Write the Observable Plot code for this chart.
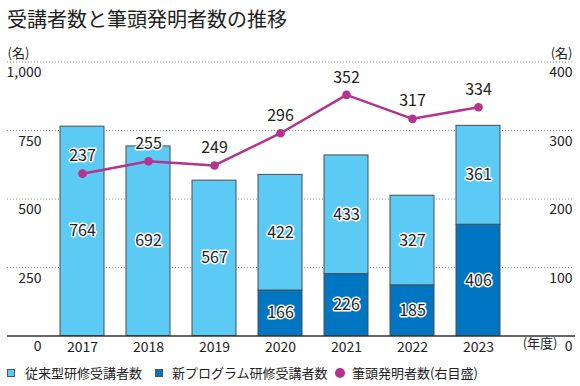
<!DOCTYPE html>
<html><head><meta charset="utf-8">
<script src="https://cdn.jsdelivr.net/npm/d3@7"></script>
<script src="https://cdn.jsdelivr.net/npm/@observablehq/plot@0.6"></script>
<style>
body{margin:0;background:#fff;font-family:"Noto Sans CJK JP",sans-serif;color:#222;}
#wrap{width:580px;height:386px;position:relative;overflow:hidden;background:#fff}
#title{height:36px;box-sizing:border-box;padding:9px 0 0 7px;font-size:20px;line-height:20px;color:#222;white-space:nowrap}
#chart svg{display:block}
#legend{position:relative;height:24px;font-size:13px;line-height:22px;color:#222}
#legend .item{position:absolute;top:0;white-space:nowrap}
#legend .sw{position:absolute;top:7px;width:8px;height:8px;box-sizing:border-box;border:1px solid #555}
#legend .dot{position:absolute;top:6px;width:10px;height:10px;border-radius:50%}
</style></head><body>
<div id="wrap">
<div id="title">受講者数と筆頭発明者数の推移</div>
<div id="chart"></div>
<div id="legend"></div>
</div>
<script>
const years = ["2017","2018","2019","2020","2021","2022","2023"];
const traditional = [764, 692, 567, 422, 433, 327, 361];
const newProgram = [0, 0, 0, 166, 226, 185, 406];
const inventors = [237, 255, 249, 296, 352, 317, 334];
const seriesNames = ["新プログラム研修受講者数", "従来型研修受講者数"];
const lineName = "筆頭発明者数(右目盛)";
const barColors = ["#0075C1", "#5BCBF5"];
const lineColor = "#B3338F";
const leftTicks = [0, 250, 500, 750, 1000];
const rightMax = 400, leftMax = 1000;
const unitLabel = "(名)";
const yearLabel = "(年度)";
const titleText = "受講者数と筆頭発明者数の推移";

const ratio = leftMax / rightMax;
const bars = [];
years.forEach((y, i) => {
  if (newProgram[i] > 0) bars.push({year: y, series: seriesNames[0], value: newProgram[i]});
  if (traditional[i] > 0) bars.push({year: y, series: seriesNames[1], value: traditional[i]});
});
const line = years.map((y, i) => ({year: y, v: inventors[i]}));

const halo = {stroke: "white", strokeWidth: 3, fill: "#222", fontSize: 16};

const chart = Plot.plot({
  width: 580,
  height: 326,
  marginLeft: 35,
  marginRight: 55,
  marginTop: 25.5,
  marginBottom: 26.5,
  style: {fontFamily: '"Noto Sans CJK JP", sans-serif', fontSize: "14px", color: "#222", background: "white"},
  x: {type: "band", domain: years, padding: 0.33, label: null},
  y: {domain: [0, leftMax], label: null},
  color: {domain: seriesNames, range: barColors},
  marks: [
    Plot.ruleY(leftTicks.filter(d => d > 0), {stroke: "#8a8a8a", strokeDasharray: "1,2", strokeWidth: 1, insetLeft: -28, insetRight: -47}),
    Plot.barY(bars, Plot.stackY({x: "year", y: "value", fill: "series", stroke: "#4d4d4d", strokeWidth: 1})),
    Plot.ruleY([0], {stroke: "#333", strokeWidth: 1.3, insetLeft: -28, insetRight: -50}),
    Plot.text(bars, Plot.stackY({x: "year", y: "value", text: d => String(d.value), ...halo})),
    Plot.line(line, {x: "year", y: d => d.v * ratio, stroke: lineColor, strokeWidth: 2.5}),
    Plot.dot(line, {x: "year", y: d => d.v * ratio, r: 4.3, fill: lineColor}),
    Plot.text(line, {x: "year", y: d => d.v * ratio, text: d => String(d.v), dy: -17.5, ...halo}),
    Plot.axisY({anchor: "left", label: null, ticks: leftTicks, tickFormat: d3.format(","), tickSize: 0, tickPadding: -6, textAnchor: "end", dy: 11, fill: "#222"}),
    Plot.axisY({anchor: "right", label: null, ticks: leftTicks, tickFormat: d => String(d / ratio), tickSize: 0, tickPadding: 47, textAnchor: "end", dy: 11, fill: "#222"}),
    Plot.axisX({anchor: "bottom", label: null, tickSize: 0, tickPadding: 0, lineAnchor: "middle", dy: 11.5, fill: "#222"}),
    Plot.text([yearLabel], {frameAnchor: "bottom-right", dx: 32, dy: 11.5, textAnchor: "end", fontSize: 13, fill: "#222"}),
    Plot.text([unitLabel], {frameAnchor: "top-left", dx: -28, dy: -13.5, textAnchor: "start", fontSize: 13, fill: "#222"}),
    Plot.text([unitLabel], {frameAnchor: "top-right", dx: 47, dy: -13.5, textAnchor: "end", fontSize: 13, fill: "#222"})
  ]
});
document.getElementById("chart").appendChild(chart);
document.getElementById("title").textContent = titleText;

const legend = document.getElementById("legend");
const items = [
  {label: seriesNames[1], color: barColors[1], kind: "sw", x: 7, tx: 25},
  {label: seriesNames[0], color: barColors[0], kind: "sw", x: 155, tx: 172},
  {label: lineName, color: lineColor, kind: "dot", x: 335, tx: 352}
];
items.forEach(it => {
  const m = document.createElement("span");
  m.className = it.kind;
  m.style.left = it.x + "px";
  m.style.background = it.color;
  legend.appendChild(m);
  const t = document.createElement("span");
  t.className = "item";
  t.style.left = it.tx + "px";
  t.textContent = it.label;
  legend.appendChild(t);
});
</script>
</body></html>
